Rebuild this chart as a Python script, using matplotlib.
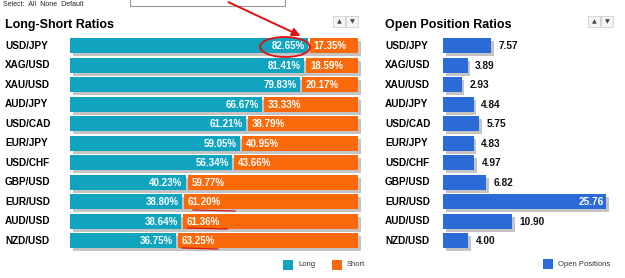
import matplotlib.pyplot as plt
from matplotlib.patches import Rectangle, Ellipse, FancyArrowPatch
from matplotlib.transforms import blended_transform_factory

plt.rcParams['font.family'] = ['Liberation Sans', 'DejaVu Sans']

pairs = ['USD/JPY', 'XAG/USD', 'XAU/USD', 'AUD/JPY', 'USD/CAD', 'EUR/JPY',
         'USD/CHF', 'GBP/USD', 'EUR/USD', 'AUD/USD', 'NZD/USD']
long_pct = [82.65, 81.41, 79.83, 66.67, 61.21, 59.05, 56.34, 40.23, 38.80, 38.64, 36.75]
short_pct = [17.35, 18.59, 20.17, 33.33, 38.79, 40.95, 43.66, 59.77, 61.20, 61.36, 63.25]
open_pos = [7.57, 3.89, 2.93, 4.84, 5.75, 4.83, 4.97, 6.82, 25.76, 10.90, 4.00]

TEAL = '#10a4bf'
ORANGE = '#fb6a0a'
BLUE = '#2b6bd8'
SHADOW = '#c4c4c4'

W, H = 625, 278
fig = plt.figure(figsize=(W / 100, H / 100), dpi=100)
fig.patch.set_facecolor('white')


def fx(x):
    return x / W


def fy(y):
    return 1 - y / H


def box(x0, x1, y0, y1):
    return [fx(x0), fy(y1), fx(x1) - fx(x0), fy(y0) - fy(y1)]


n = len(pairs)
ys = list(range(n))
bh = 0.77

# ---- Long-Short panel ----
ax1 = fig.add_axes(box(70, 358, 36, 250.5))
ax1.set_xlim(0, 100)
ax1.set_ylim(n - 0.5, -0.5)
ax1.axis('off')
sx, sy = 1.1, 0.15
ax1.barh([y + sy for y in ys], [100] * n, left=sx, height=bh, color=SHADOW, clip_on=False, zorder=1)
ax1.barh(ys, long_pct, height=bh, color=TEAL, zorder=2)
ax1.barh(ys, [s - 0.7 for s in short_pct], left=[l + 0.7 for l in long_pct], height=bh,
         color=ORANGE, zorder=2)
for y, l in zip(ys, long_pct):
    ax1.text(l - 1.2, y + 0.03, f'{l:.2f}%', color='white', fontsize=7, fontweight='bold',
             ha='right', va='center', zorder=3)
    ax1.text(l + 2.0, y + 0.03, f'{100 - l:.2f}%', color='white', fontsize=7, fontweight='bold',
             ha='left', va='center', zorder=3)
tr1 = blended_transform_factory(fig.transFigure, ax1.transData)
for y, p in zip(ys, pairs):
    fig.text(fx(5), y, p, transform=tr1, fontsize=7.2, fontweight='bold', va='center', ha='left')

# ---- Open Position panel ----
ax2 = fig.add_axes(box(443, 613, 36, 250.5))
ax2.set_xlim(0, 26.86)
ax2.set_ylim(n - 0.5, -0.5)
ax2.axis('off')
osx = 0.45
ax2.barh([y + sy for y in ys], open_pos, left=osx, height=bh, color=SHADOW, clip_on=False, zorder=1)
ax2.barh(ys, open_pos, height=bh, color=BLUE, zorder=2)
for y, v in zip(ys, open_pos):
    if v > 20:
        ax2.text(v - 0.3, y + 0.03, f'{v:.2f}', color='white', fontsize=7.3, fontweight='bold',
                 ha='right', va='center', zorder=3)
    else:
        ax2.text(v + 1.2, y + 0.03, f'{v:.2f}', color='#111111', fontsize=7.3, fontweight='bold',
                 ha='left', va='center', zorder=3)
tr2 = blended_transform_factory(fig.transFigure, ax2.transData)
for y, p in zip(ys, pairs):
    fig.text(fx(385), y, p, transform=tr2, fontsize=7.2, fontweight='bold', va='center', ha='left')

# ---- titles ----
fig.text(fx(5), fy(28), 'Long-Short Ratios', fontsize=9, fontweight='bold', ha='left', va='baseline')
fig.text(fx(385), fy(28), 'Open Position Ratios', fontsize=9, fontweight='bold', ha='left', va='baseline')

# top strip
fig.text(fx(3), fy(5.5), 'Select:  All  None  Default', fontsize=5, ha='left', va='baseline',
         color='#222222')
fig.patches.append(Rectangle((fx(130), fy(6)), fx(155), fy(0) - fy(6) + 0.05,
                             transform=fig.transFigure, fill=False, ec='#999999', lw=0.8))

# up / down buttons
for x0 in (333, 588):
    for k, tri in enumerate(['▲', '▼']):
        xx = x0 + k * 13
        fig.patches.append(Rectangle((fx(xx), fy(27)), fx(12), fy(16) - fy(27),
                                     transform=fig.transFigure, fc='#f4f4f4', ec='#d0d0d0', lw=0.6))
        fig.text(fx(xx + 6), fy(21.5), tri, fontsize=4.5, ha='center', va='center', color='#444444',
                 family='DejaVu Sans')


# legends
def legend_item(x, y, color, label):
    fig.patches.append(Rectangle((fx(x), fy(y + 10)), fx(10), fy(y) - fy(y + 10),
                                 transform=fig.transFigure, fc=color, ec='none'))
    fig.text(fx(x + 15), fy(y + 5), label, fontsize=5.5, ha='left', va='center', color='#333333')


legend_item(283, 260, TEAL, 'Long')
legend_item(332, 260, ORANGE, 'Short')
legend_item(543, 259, BLUE, 'Open Positions')

# red hand annotations
RED = '#e01010'
fig.patches.append(FancyArrowPatch((fx(226), fy(1)), (fx(303), fy(37)),
                                   transform=fig.transFigure, arrowstyle='-|>', mutation_scale=12,
                                   color=RED, lw=1.4))
fig.patches.append(Ellipse((fx(285), fy(47)), fx(50), fy(0) - fy(20), angle=-5,
                           transform=fig.transFigure, fill=False, ec=RED, lw=1.3))
for xa, xb, yy in [(193, 235, 210), (188, 227, 228), (182, 218, 248)]:
    fig.add_artist(plt.Line2D([fx(xa), fx(xb)], [fy(yy), fy(yy + 1)], color=RED, lw=0.9,
                              transform=fig.transFigure))

fig.savefig('out.png', dpi=100, facecolor='white')
